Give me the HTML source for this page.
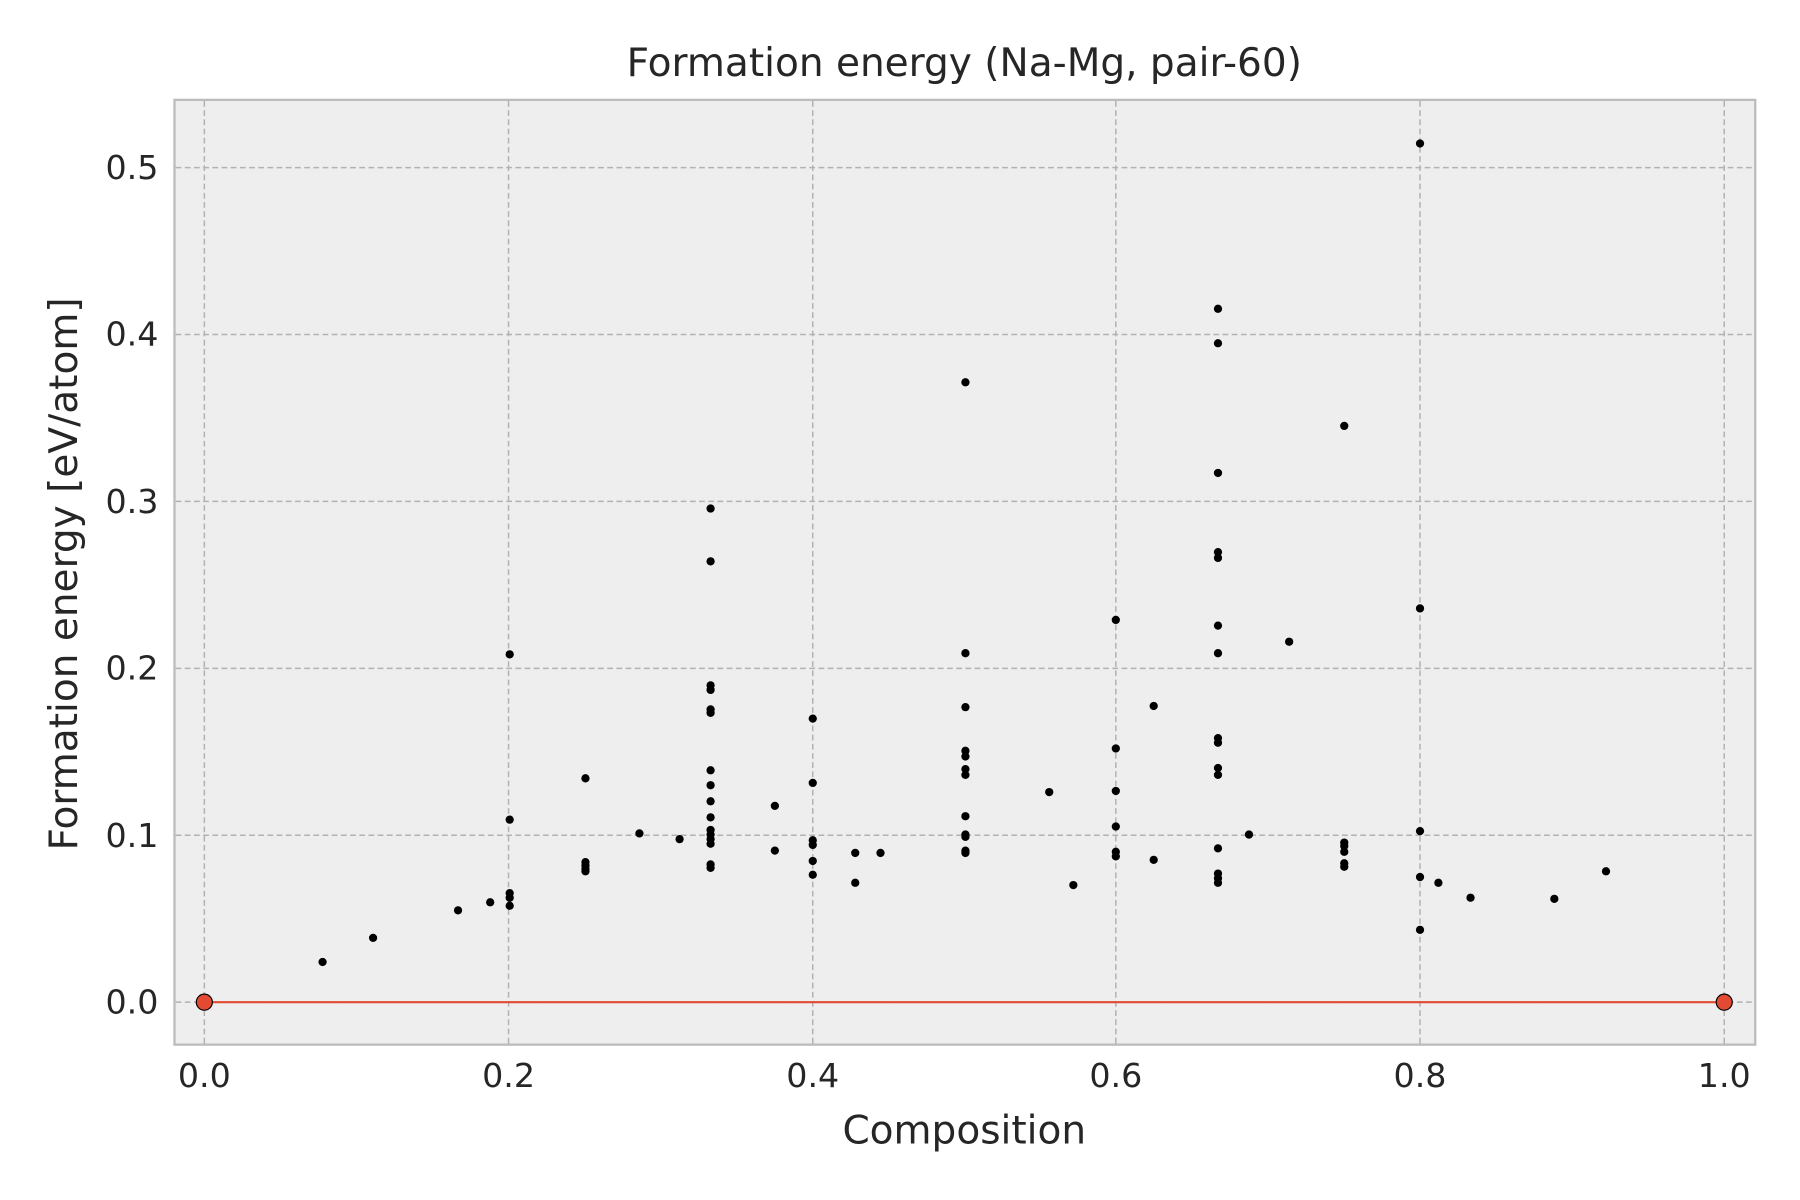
<!DOCTYPE html>
<html><head><meta charset="utf-8"><style>html,body{margin:0;padding:0;background:#fff}svg{display:block}</style></head>
<body>
<svg width="1800" height="1200" viewBox="0 0 1568 1045.33" xmlns="http://www.w3.org/2000/svg" font-family="'DejaVu Sans','Liberation Sans',sans-serif" fill="#262626">
<rect x="0" y="0" width="1568" height="1046" fill="#fff"/>
<rect x="152" y="87" width="1377" height="823" fill="#eeeeee" stroke="#bcbcbc" stroke-width="2"/>
<g stroke="#b2b2b2" stroke-width="1.3" stroke-dasharray="5,3">
<line x1="178" y1="88" x2="178" y2="909"/><line x1="443" y1="88" x2="443" y2="909"/><line x1="708" y1="88" x2="708" y2="909"/><line x1="972" y1="88" x2="972" y2="909"/><line x1="1237" y1="88" x2="1237" y2="909"/><line x1="1502" y1="88" x2="1502" y2="909"/>
<line x1="153" y1="873" x2="1528" y2="873"/><line x1="153" y1="727.6" x2="1528" y2="727.6"/><line x1="153" y1="582.2" x2="1528" y2="582.2"/><line x1="153" y1="436.8" x2="1528" y2="436.8"/><line x1="153" y1="291.4" x2="1528" y2="291.4"/><line x1="153" y1="146" x2="1528" y2="146"/>
</g>
<g font-size="29" text-anchor="middle">
<text x="178" y="947">0.0</text><text x="443" y="947">0.2</text><text x="708" y="947">0.4</text><text x="972" y="947">0.6</text><text x="1237" y="947">0.8</text><text x="1502" y="947">1.0</text>
</g>
<g font-size="29" text-anchor="end">
<text x="138" y="883">0.0</text><text x="138" y="738">0.1</text><text x="138" y="592">0.2</text><text x="138" y="447">0.3</text><text x="138" y="301">0.4</text><text x="138" y="156">0.5</text>
</g>
<text x="840" y="66" font-size="34" text-anchor="middle">Formation energy (Na-Mg, pair-60)</text>
<text x="840" y="996" font-size="34" text-anchor="middle">Composition</text>
<text transform="translate(67,500) rotate(-90)" font-size="34" text-anchor="middle">Formation energy [eV/atom]</text>
<line x1="178" y1="873" x2="1502" y2="873" stroke="#e24a33" stroke-width="1.8"/>
<g fill="#000">
<circle cx="281" cy="838" r="3.6"/><circle cx="325" cy="817" r="3.6"/><circle cx="399" cy="793" r="3.6"/><circle cx="427" cy="786" r="3.6"/><circle cx="444" cy="570" r="3.6"/><circle cx="444" cy="714" r="3.6"/><circle cx="444" cy="778" r="3.6"/><circle cx="444" cy="782" r="3.6"/><circle cx="444" cy="789" r="3.6"/><circle cx="510" cy="678" r="3.6"/><circle cx="510" cy="751" r="3.6"/><circle cx="510" cy="754" r="3.6"/><circle cx="510" cy="757" r="3.6"/><circle cx="510" cy="759" r="3.6"/><circle cx="557" cy="726" r="3.6"/><circle cx="592" cy="731" r="3.6"/><circle cx="619" cy="443" r="3.6"/><circle cx="619" cy="489" r="3.6"/><circle cx="619" cy="597" r="3.6"/><circle cx="619" cy="601" r="3.6"/><circle cx="619" cy="618" r="3.6"/><circle cx="619" cy="621" r="3.6"/><circle cx="619" cy="671" r="3.6"/><circle cx="619" cy="684" r="3.6"/><circle cx="619" cy="698" r="3.6"/><circle cx="619" cy="712" r="3.6"/><circle cx="619" cy="723" r="3.6"/><circle cx="619" cy="727" r="3.6"/><circle cx="619" cy="731" r="3.6"/><circle cx="619" cy="735" r="3.6"/><circle cx="619" cy="753" r="3.6"/><circle cx="619" cy="756" r="3.6"/><circle cx="675" cy="702" r="3.6"/><circle cx="675" cy="741" r="3.6"/><circle cx="708" cy="626" r="3.6"/><circle cx="708" cy="682" r="3.6"/><circle cx="708" cy="732" r="3.6"/><circle cx="708" cy="736" r="3.6"/><circle cx="708" cy="750" r="3.6"/><circle cx="708" cy="762" r="3.6"/><circle cx="745" cy="743" r="3.6"/><circle cx="745" cy="769" r="3.6"/><circle cx="767" cy="743" r="3.6"/><circle cx="841" cy="333" r="3.6"/><circle cx="841" cy="569" r="3.6"/><circle cx="841" cy="616" r="3.6"/><circle cx="841" cy="654" r="3.6"/><circle cx="841" cy="659" r="3.6"/><circle cx="841" cy="670" r="3.6"/><circle cx="841" cy="675" r="3.6"/><circle cx="841" cy="711" r="3.6"/><circle cx="841" cy="727" r="3.6"/><circle cx="841" cy="729" r="3.6"/><circle cx="841" cy="741" r="3.6"/><circle cx="841" cy="743" r="3.6"/><circle cx="914" cy="690" r="3.6"/><circle cx="935" cy="771" r="3.6"/><circle cx="972" cy="540" r="3.6"/><circle cx="972" cy="652" r="3.6"/><circle cx="972" cy="689" r="3.6"/><circle cx="972" cy="720" r="3.6"/><circle cx="972" cy="742" r="3.6"/><circle cx="972" cy="746" r="3.6"/><circle cx="1005" cy="615" r="3.6"/><circle cx="1005" cy="749" r="3.6"/><circle cx="1061" cy="269" r="3.6"/><circle cx="1061" cy="299" r="3.6"/><circle cx="1061" cy="412" r="3.6"/><circle cx="1061" cy="481" r="3.6"/><circle cx="1061" cy="486" r="3.6"/><circle cx="1061" cy="545" r="3.6"/><circle cx="1061" cy="569" r="3.6"/><circle cx="1061" cy="643" r="3.6"/><circle cx="1061" cy="647" r="3.6"/><circle cx="1061" cy="669" r="3.6"/><circle cx="1061" cy="675" r="3.6"/><circle cx="1061" cy="739" r="3.6"/><circle cx="1061" cy="761" r="3.6"/><circle cx="1061" cy="765" r="3.6"/><circle cx="1061" cy="769" r="3.6"/><circle cx="1088" cy="727" r="3.6"/><circle cx="1123" cy="559" r="3.6"/><circle cx="1171" cy="371" r="3.6"/><circle cx="1171" cy="734" r="3.6"/><circle cx="1171" cy="737" r="3.6"/><circle cx="1171" cy="742" r="3.6"/><circle cx="1171" cy="752" r="3.6"/><circle cx="1171" cy="755" r="3.6"/><circle cx="1237" cy="125" r="3.6"/><circle cx="1237" cy="530" r="3.6"/><circle cx="1237" cy="724" r="3.6"/><circle cx="1237" cy="764" r="3.6"/><circle cx="1237" cy="810" r="3.6"/><circle cx="1253" cy="769" r="3.6"/><circle cx="1281" cy="782" r="3.6"/><circle cx="1354" cy="783" r="3.6"/><circle cx="1399" cy="759" r="3.6"/>
</g>
<circle cx="178" cy="873" r="7" fill="#e24a33" stroke="#000" stroke-width="1"/>
<circle cx="1502" cy="873" r="7" fill="#e24a33" stroke="#000" stroke-width="1"/>
</svg>
</body></html>
